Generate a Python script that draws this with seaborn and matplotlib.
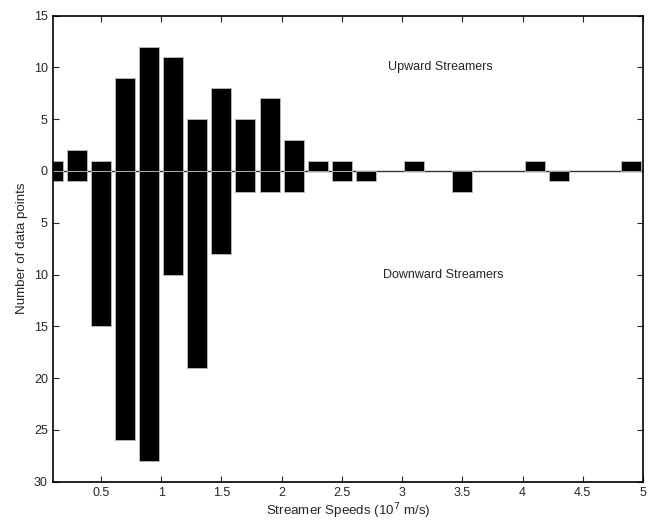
import numpy as np
import pandas as pd
import matplotlib.pyplot as plt
import seaborn as sns

# streamer speed bins (10^7 m/s), bin centres
speeds = [0.1, 0.3, 0.5, 0.7, 0.9, 1.1, 1.3, 1.5, 1.7, 1.9, 2.1, 2.3, 2.5,
          2.7, 2.9, 3.1, 3.3, 3.5, 3.7, 3.9, 4.1, 4.3, 4.5, 4.7, 4.9]
upward = [1, 2, 1, 9, 12, 11, 5, 8, 5, 7, 3, 1, 1,
          0, 0, 1, 0, 0, 0, 0, 1, 0, 0, 0, 1]
downward = [1, 1, 15, 26, 28, 10, 19, 8, 2, 2, 2, 0, 1,
            1, 0, 0, 0, 2, 0, 0, 0, 1, 0, 0, 0]
ytick_vals = [15, 10, 5, 0, -5, -10, -15, -20, -25, -30]
xtick_vals = [0.5, 1, 1.5, 2, 2.5, 3, 3.5, 4, 4.5, 5]

sns.set_style("ticks")
plt.rcParams["font.family"] = ["Liberation Sans", "DejaVu Sans"]

df = pd.DataFrame({"speed": speeds, "up": upward,
                   "down": [-d for d in downward]})

fig = plt.figure(figsize=(6.53, 5.21), dpi=100)
ax = fig.add_axes([0.0807, 0.0754, 0.904, 0.8946])

ax.axhline(0, color="#333333", lw=1.0, zorder=0)
for col in ["up", "down"]:
    sub = df[df[col] != 0]  # empty bins show no bar
    sns.barplot(data=sub, x="speed", y=col, native_scale=True, width=0.83,
                color="black", saturation=1, errorbar=None,
                edgecolor="#bbbbbb", linewidth=0.6, ax=ax)

ax.set_xlim(0.1, 5)
ax.set_ylim(-30, 15)
ax.set_xticks(xtick_vals)
ax.set_xticklabels([f"{v:g}" for v in xtick_vals])
ax.set_yticks(ytick_vals)
ax.set_yticklabels([str(abs(v)) for v in ytick_vals])
ax.tick_params(direction="in", top=True, right=True, labelsize=9,
               length=4, width=0.8)
for s in ax.spines.values():
    s.set_linewidth(1.2)
    s.set_color("black")

ax.set_xlabel("Streamer Speeds (10$^7$ m/s)", fontsize=9.6, labelpad=2)
ax.set_ylabel("Number of data points", fontsize=9.6)

ax.text(3.32, 10, "Upward Streamers", ha="center", va="center", fontsize=9)
ax.text(3.34, -10, "Downward Streamers", ha="center", va="center", fontsize=9)

fig.savefig("out.png", dpi=100)
